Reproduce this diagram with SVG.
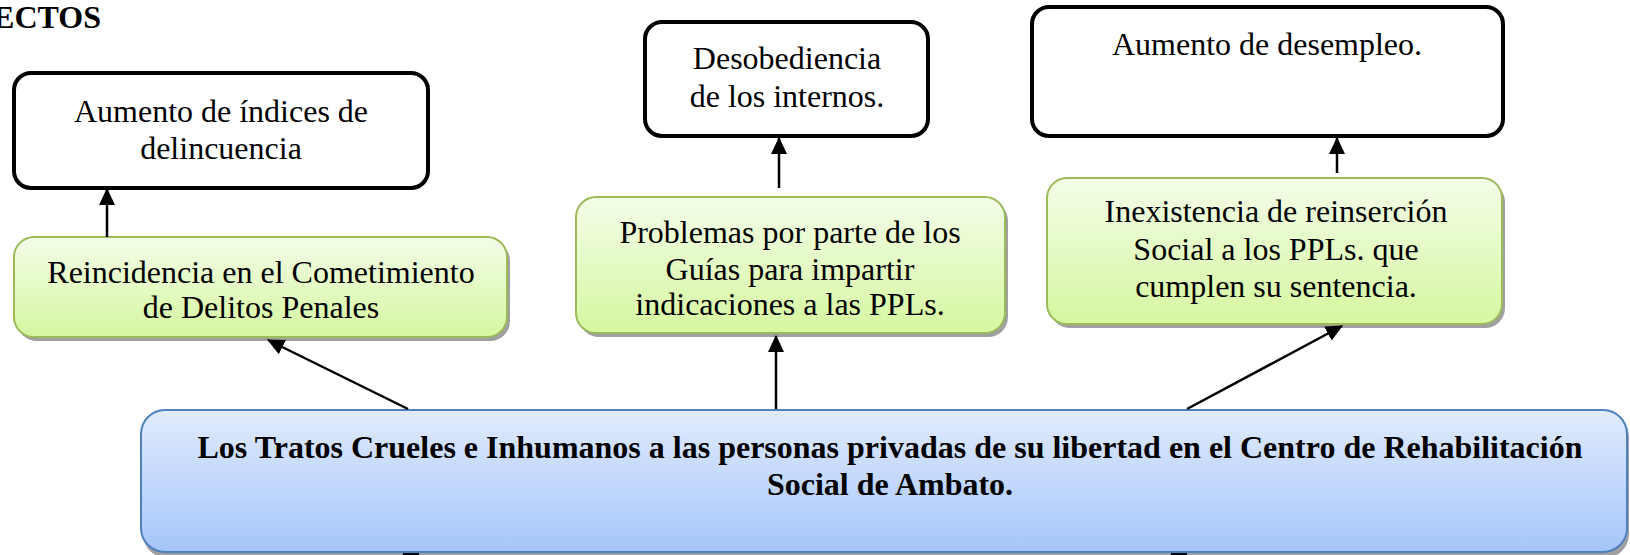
<svg xmlns="http://www.w3.org/2000/svg" width="1630" height="555" viewBox="0 0 1630 555">
<style>
text{font-family:"Liberation Serif","Times New Roman",serif;font-size:32px;fill:#000;text-anchor:middle}
.b{font-weight:bold}
.white{fill:#fff;stroke:#000;stroke-width:4}
.green{fill:url(#gg);stroke:#9bbb59;stroke-width:2}
.blue{fill:url(#bg);stroke:#4f81bd;stroke-width:2}
.sh{fill:#a0a0a0}
.conn line{stroke:#000;stroke-width:2.5;marker-end:url(#ah)}
</style>
<defs>
<linearGradient id="gg" x1="0" y1="0" x2="0" y2="1">
<stop offset="0" stop-color="#f3fde8"/>
<stop offset="1" stop-color="#d6f7a0"/>
</linearGradient>
<linearGradient id="bg" x1="0" y1="0" x2="0" y2="1">
<stop offset="0" stop-color="#e1ebfd"/>
<stop offset="1" stop-color="#a5c5fa"/>
</linearGradient>
<marker id="ah" markerUnits="userSpaceOnUse" markerWidth="17" markerHeight="16" refX="16" refY="8" orient="auto">
<path d="M0,0 L17,8 L0,16 z" fill="#000"/>
</marker>
</defs>
<rect width="1630" height="555" fill="#fff"/>
<text class="b" x="101" y="28" style="text-anchor:end">ECTOS</text>

<g id="effect1">
<rect class="white" x="14" y="73" width="414" height="115" rx="17"/>
<text x="221" y="122">Aumento de índices de</text>
<text x="221" y="159">delincuencia</text>
</g>
<g id="effect2">
<rect class="white" x="645" y="22" width="283" height="114" rx="17"/>
<text x="787" y="69">Desobediencia</text>
<text x="787" y="107">de los internos.</text>
</g>
<g id="effect3">
<rect class="white" x="1032" y="7" width="471" height="129" rx="17"/>
<text x="1267" y="55">Aumento de desempleo.</text>
</g>

<g id="cause1">
<rect class="sh" x="17" y="241" width="493" height="100" rx="20"/>
<rect class="green" x="14" y="237" width="493" height="100" rx="20"/>
<text x="261" y="283">Reincidencia en el Cometimiento</text>
<text x="261" y="318">de Delitos Penales</text>
</g>
<g id="cause2">
<rect class="sh" x="579" y="201" width="429" height="136" rx="20"/>
<rect class="green" x="576" y="197" width="429" height="136" rx="20"/>
<text x="790" y="243">Problemas por parte de los</text>
<text x="790" y="280">Guías para impartir</text>
<text x="790" y="315">indicaciones a las PPLs.</text>
</g>
<g id="cause3">
<rect class="sh" x="1050" y="182" width="455" height="146" rx="20"/>
<rect class="green" x="1047" y="178" width="455" height="146" rx="20"/>
<text x="1276" y="222">Inexistencia de reinserción</text>
<text x="1276" y="260">Social a los PPLs. que</text>
<text x="1276" y="297">cumplen su sentencia.</text>
</g>

<g id="main">
<rect class="sh" x="143" y="413" width="1486" height="145" rx="24"/>
<rect class="blue" x="141" y="410" width="1486" height="142" rx="24"/>
<text class="b" x="890" y="458">Los Tratos Crueles e Inhumanos a las personas privadas de su libertad en el Centro de Rehabilitación</text>
<text class="b" x="890" y="495">Social de Ambato.</text>
</g>

<g class="conn" id="connectors">
<line x1="107" y1="237" x2="107" y2="189"/>
<line x1="779" y1="188" x2="779" y2="138"/>
<line x1="1337" y1="173" x2="1337" y2="138"/>
<line x1="408" y1="409" x2="268" y2="340"/>
<line x1="776" y1="409" x2="776" y2="336"/>
<line x1="1187" y1="409" x2="1342" y2="326"/>
<rect x="403" y="553" width="16" height="2" fill="#000"/>
<rect x="1171" y="553" width="16" height="2" fill="#000"/>
</g>
</svg>
